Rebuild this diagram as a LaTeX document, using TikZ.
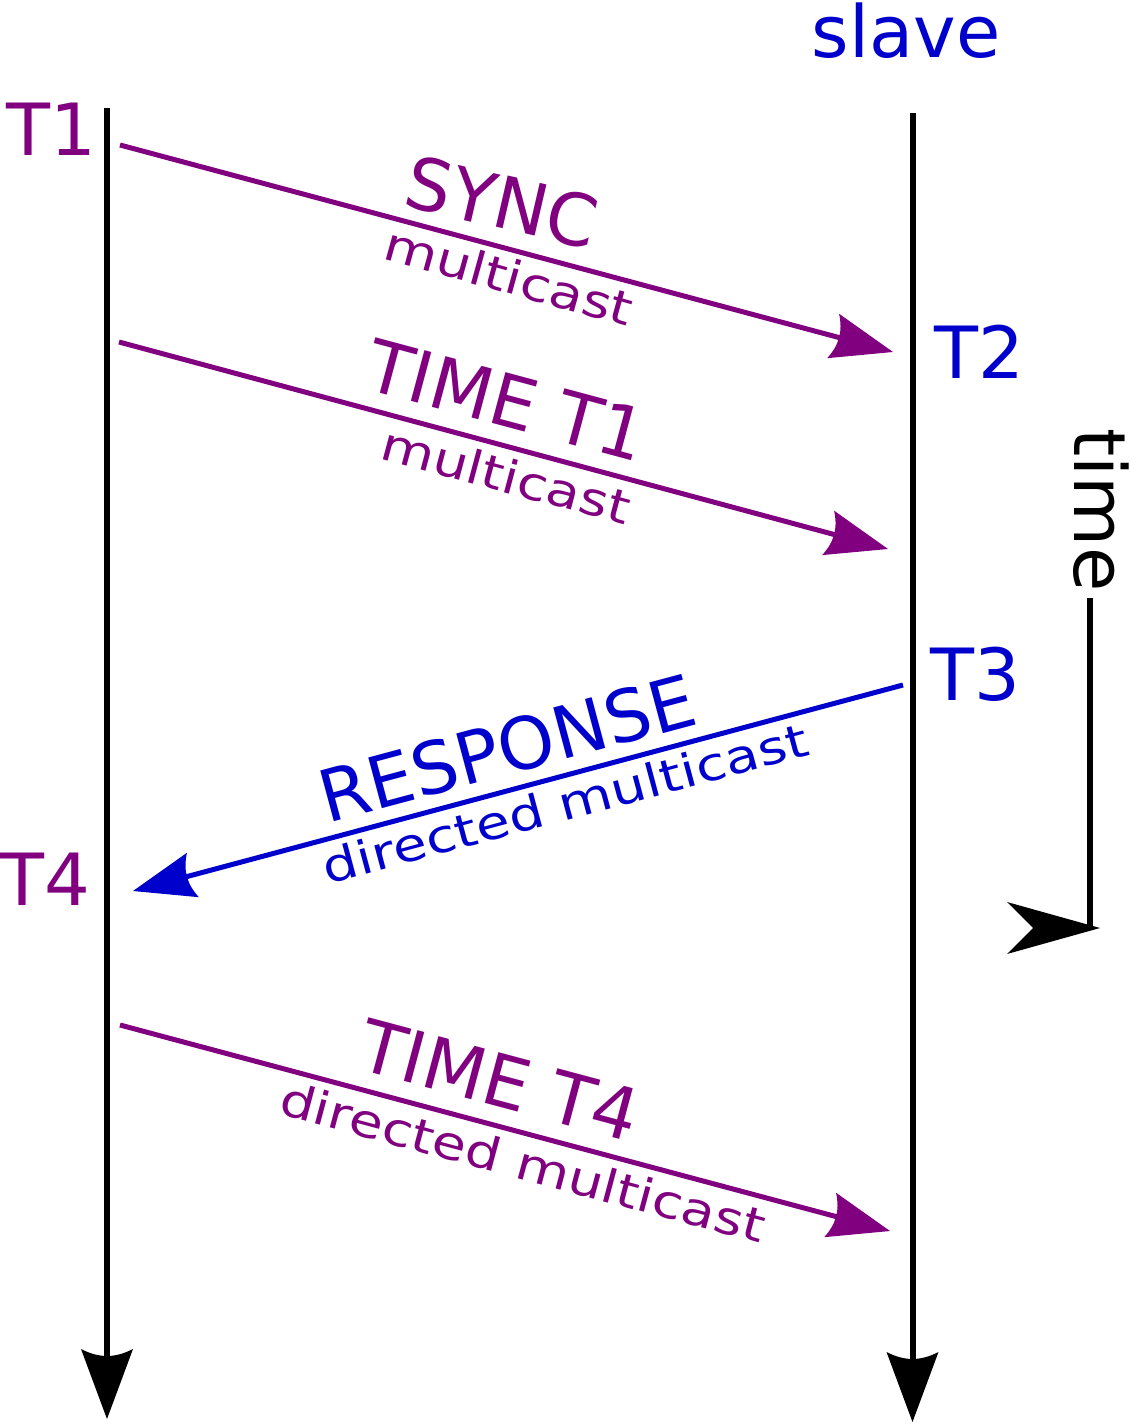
\documentclass[tikz,border=0pt]{standalone}
\usepackage{graphicx}
\usepackage{fontspec}
\setmainfont{DejaVu Sans}
\usetikzlibrary{arrows.meta}
\definecolor{pur}{RGB}{128,0,128}
\definecolor{blu}{RGB}{0,0,204}
\pgfdeclarearrow{
  name = Ink,
  parameters = {\the\pgfarrowlength,\the\pgfarrowwidth},
  setup code = {
    \pgfarrowssettipend{0pt}
    \pgfarrowssetbackend{-\pgfarrowlength}
    \pgfarrowssetlineend{-0.7\pgfarrowlength}
    \pgfarrowshullpoint{0pt}{0pt}
    \pgfarrowsupperhullpoint{-\pgfarrowlength}{0.5\pgfarrowwidth}
    \pgfarrowssavethe\pgfarrowlength
    \pgfarrowssavethe\pgfarrowwidth
  },
  drawing code = {
    \pgfpathmoveto{\pgfpointorigin}
    \pgfpathlineto{\pgfpoint{-\pgfarrowlength}{0.5\pgfarrowwidth}}
    \pgfpathcurveto{\pgfpoint{-0.867\pgfarrowlength}{0.15\pgfarrowwidth}}{\pgfpoint{-0.867\pgfarrowlength}{-0.15\pgfarrowwidth}}{\pgfpoint{-\pgfarrowlength}{-0.5\pgfarrowwidth}}
    \pgfpathclose
    \pgfusepathqfill
  },
  defaults = {length = 10pt, width = 8pt}
}
\newcommand\mybig{\fontsize{72}{86}\selectfont}
\newcommand\mysmall{\fontsize{46}{55}\selectfont}
\newcommand\mywide[1]{\scalebox{1.2}[1]{#1}}
\tikzset{
  vline/.style={line width=6pt, -{Ink[length=70pt,width=52pt]}},
  msg/.style={line width=5pt, -{Ink[length=62pt,width=46pt]}},
  big/.style={inner sep=0pt, font=\mybig},
  small/.style={inner sep=0pt, font=\mysmall},
}
\begin{document}
\begin{tikzpicture}[x=1pt,y=-1pt]
\useasboundingbox (0,0) rectangle (1131,1424);
% time lines
\coordinate (Ltop) at (107,108);
\coordinate (Lbot) at (107,1419);
\coordinate (Rtop) at (912.5,113);
\coordinate (Rbot) at (912.5,1422);
\draw[vline] (Ltop) -- (Lbot);
\draw[vline] (Rtop) -- (Rbot);
% labels
\node[big, text=blu] (slave) at (906,31) {slave};
\node[big, text=pur] (t1) at (51,129.5) {T1};
\node[big, text=blu] (t2) at (979,352) {T2};
\node[big, text=blu] (t3) at (975,674) {T3};
\node[big, text=pur] (t4) at (45,879) {T4};
% messages
\coordinate (a1s) at (120,145); \coordinate (a1e) at (893,352);
\coordinate (a2s) at (119,342); \coordinate (a2e) at (888,549);
\coordinate (a3s) at (903,685); \coordinate (a3e) at (133,891);
\coordinate (a4s) at (120,1025); \coordinate (a4e) at (890,1231);
\draw[msg, pur] (a1s) -- (a1e);
\draw[msg, pur] (a2s) -- (a2e);
\draw[msg, blu] (a3s) -- (a3e);
\draw[msg, pur] (a4s) -- (a4e);
\node[big, text=pur, rotate=-13] (sync) at (502,202) {SYNC};
\node[small, text=pur, rotate=-15.5] (mc1) at (509,276) {\mywide{multicast}};
\node[big, text=pur, rotate=-15] (time1) at (507,400) {TIME T1};
\node[small, text=pur, rotate=-15] (mc2) at (506,475) {\mywide{multicast}};
\node[big, text=blu, rotate=15] (resp) at (507,748) {RESPONSE};
\node[small, text=blu, rotate=15] (dm1) at (565,803) {\mywide{directed multicast}};
\node[big, text=pur, rotate=-15] (time4) at (500,1080) {TIME T4};
\node[small, text=pur, rotate=-15] (dm2) at (523,1162) {\mywide{directed multicast}};
% time axis
\node[big, rotate=-90] (time) at (1101,510) {time};
\coordinate (tl1) at (1090,598);
\coordinate (tl2) at (1090,927);
\draw[line width=6pt] (tl1) -- (tl2);
\fill (1100,928) -- (1007,902) -- (1033,928) -- (1007,954) -- cycle;
\end{tikzpicture}
\end{document}
